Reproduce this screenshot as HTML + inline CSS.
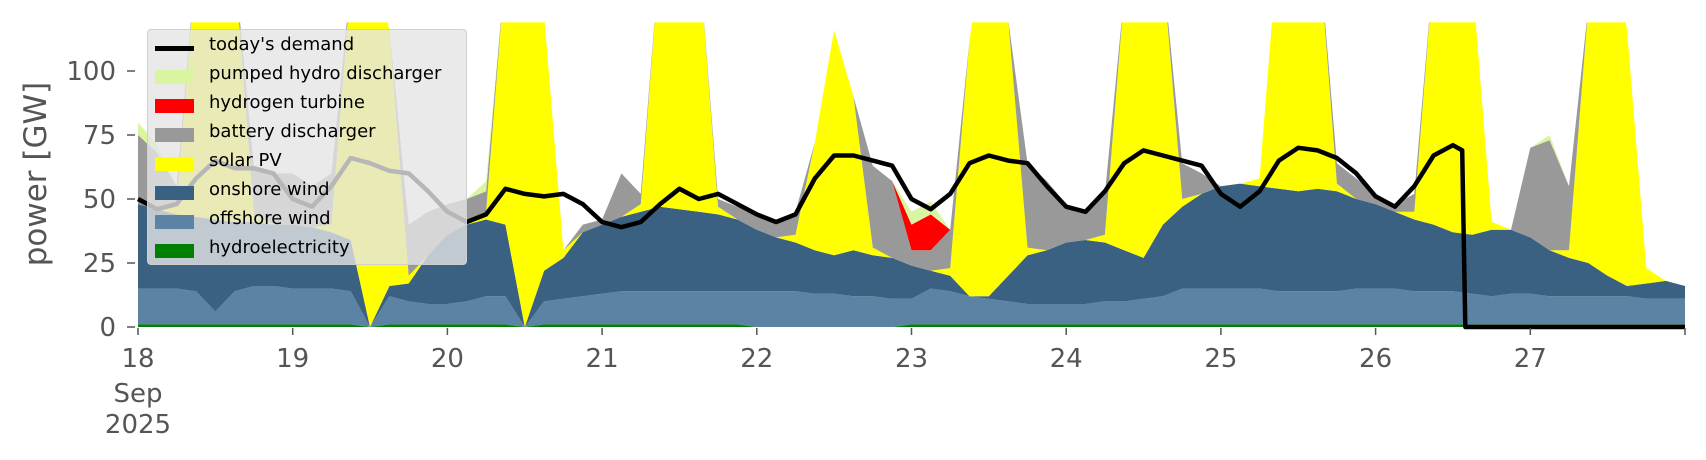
<!DOCTYPE html>
<html><head><meta charset="utf-8"><style>
body{margin:0;background:#fff;}
#wrap{position:relative;width:1706px;height:460px;overflow:hidden;font-family:"DejaVu Sans","Liberation Sans",sans-serif;}
#legend{position:absolute;left:147px;top:29px;width:320px;height:236px;background:rgba(229,229,229,0.8);border:1px solid #cfcfcf;border-radius:4px;box-sizing:border-box;}
.le{position:absolute;left:0;height:29px;width:100%;}
.sw{position:absolute;left:7px;top:8px;width:39px;height:14px;}
.ln{position:absolute;left:7px;top:13px;width:39px;height:5px;background:#000;}
.lt{position:absolute;left:61px;top:1px;font-size:18px;color:#000;white-space:nowrap;}
</style></head><body>
<div id="wrap">
<svg id="chart" width="1706" height="460"></svg>
<div id="legend">
 <div class="le" style="top:3px"><div class="ln"></div><div class="lt">today's demand</div></div>
 <div class="le" style="top:32px"><div class="sw" style="background:#daf5a2"></div><div class="lt">pumped hydro discharger</div></div>
 <div class="le" style="top:61px"><div class="sw" style="background:#ff0000"></div><div class="lt">hydrogen turbine</div></div>
 <div class="le" style="top:90px"><div class="sw" style="background:#999999"></div><div class="lt">battery discharger</div></div>
 <div class="le" style="top:119px"><div class="sw" style="background:#ffff00"></div><div class="lt">solar PV</div></div>
 <div class="le" style="top:148px"><div class="sw" style="background:#3b6182"></div><div class="lt">onshore wind</div></div>
 <div class="le" style="top:177px"><div class="sw" style="background:#5c83a4"></div><div class="lt">offshore wind</div></div>
 <div class="le" style="top:206px"><div class="sw" style="background:#008000"></div><div class="lt">hydroelectricity</div></div>
</div>
</div>
<script>
const startDay = 18, stepDays = 0.125;
const hydro = [1,1,1,1,1,1,1,1, 1,1,1,1,0,1,1,1, 1,1,1,1,0,1,1,1, 1,1,1,1,1,1,1,1, 0,0,0,0,0,0,0,0, 1,1,1,1,1,1,1,1, 1,1,1,1,1,1,1,1, 1,1,1,1,1,1,1,1, 1,1,1,1,1,1,1,1, 1,1,1,1,1,1,1,1, 1];
const offshore = [14,14,14,13,5,13,15,15, 14,14,14,13,0,11,9,8, 8,9,11,11,0,9,10,11, 12,13,13,13,13,13,13,13, 14,14,14,13,13,12,12,11, 10,14,13,11,10,9,8,8, 8,8,9,9,10,11,14,14, 14,14,14,13,13,13,13,14, 14,14,13,13,13,12,11,12, 12,11,11,11,11,11,10,10, 10];
const onshore = [33,31,29,29,36,27,25,24, 25,24,22,20,0,4,7,19, 27,30,30,28,0,12,16,25, 27,29,31,33,32,31,30,28, 24,21,19,17,15,18,16,16, 13,7,6,0,1,10,19,21, 24,25,23,20,16,28,32,37, 40,41,40,40,39,40,39,35, 33,30,28,26,23,23,26,25, 22,18,15,13,8,4,6,7, 5];
const solar = [0,0,3,100,150,100,3,0, 0,0,3,100,150,100,3,0, 0,0,3,100,150,100,3,0, 0,0,3,100,150,100,3,0, 0,0,3,42,88,60,3,0, 0,0,3,100,150,100,3,0, 0,0,3,100,150,100,3,0, 0,0,3,100,150,100,3,0, 0,0,3,100,150,100,3,0, 0,0,3,100,150,100,6,0, 0];
const battery = [27,22,8,0,0,0,18,20, 20,16,20,0,0,0,20,17, 12,10,8,0,0,0,0,3, 2,17,4,0,0,0,3,5, 6,6,9,0,0,0,32,30, 6,8,15,0,0,0,33,27, 15,11,16,0,0,0,14,8, 0,0,0,0,0,0,8,8, 4,3,7,0,0,0,0,0, 35,43,25,0,0,0,0,0, 0];
const hydrogen = [0,0,0,0,0,0,0,0, 0,0,0,0,0,0,0,0, 0,0,0,0,0,0,0,0, 0,0,0,0,0,0,0,0, 0,0,0,0,0,0,0,0, 10,14,0,0,0,0,0,0, 0,0,0,0,0,0,0,0, 0,0,0,0,0,0,0,0, 0,0,0,0,0,0,0,0, 0,0,0,0,0,0,0,0, 0];
const pumpedHydro = [5,3,0,0,0,0,0,0, 0,0,0,0,0,0,0,0, 0,0,4,0,0,0,0,0, 0,0,0,0,0,0,0,0, 0,0,0,0,0,0,0,0, 5,5,0,0,0,0,0,0, 0,0,0,0,0,0,0,0, 0,0,0,0,0,0,0,0, 0,0,0,0,0,0,0,0, 0,2,0,0,0,0,0,0, 0];
const demand = [50,46,48,58,65,62,62,60, 50,47,55,66,64,61,60,53, 45,41,44,54,52,51,52,48, 41,39,41,48,54,50,52,48, 44,41,44,58,67,67,65,63, 50,46,52,64,67,65,64,55, 47,45,53,64,69,67,65,63, 52,47,53,65,70,69,66,60, 51,47,55,67,71, 69,0,0];
const demandExtraDays = [26.56,26.58,28];
const yTicks = [0,25,50,75,100];
const xTickDays = [18,19,20,21,22,23,24,25,26,27,28];
const xTickLabels = ["18","19","20","21","22","23","24","25","26","27",""];

const X0=138, DAYPX=154.7, Y0=327, PXPER=2.56, YMAX=119, XEND=28;
const xs = d => X0 + DAYPX*(d-startDay);
const ys = v => Y0 - PXPER*v;
const NS='http://www.w3.org/2000/svg';
const svg=document.getElementById('chart');
function mk(t,a){const e=document.createElementNS(NS,t);for(const k in a)e.setAttribute(k,a[k]);return e;}
const defs=mk('defs',{});const cp=mk('clipPath',{id:'pc'});
cp.appendChild(mk('rect',{x:xs(startDay),y:ys(YMAX),width:xs(XEND)-xs(startDay),height:ys(0)-ys(YMAX)+1}));
defs.appendChild(cp);svg.appendChild(defs);
const g=mk('g',{'clip-path':'url(#pc)'});svg.appendChild(g);
const layers=[['hydroelectricity-area',hydro,'#008000'],['offshore-wind-area',offshore,'#5c83a4'],['onshore-wind-area',onshore,'#3b6182'],['solar-pv-area',solar,'#ffff00'],['battery-discharger-area',battery,'#999999'],['hydrogen-turbine-area',hydrogen,'#ff0000'],['pumped-hydro-area',pumpedHydro,'#daf5a2']];
let base=hydro.map(()=>0);
layers.forEach(([name,vals,col])=>{
  const top=base.map((b,i)=>b+vals[i]);
  let d='';
  top.forEach((v,i)=>{d+=(i?'L':'M')+xs(startDay+i*stepDays).toFixed(1)+','+ys(v).toFixed(1);});
  for(let i=base.length-1;i>=0;i--) d+='L'+xs(startDay+i*stepDays).toFixed(1)+','+ys(base[i]).toFixed(1);
  const p=mk('path',{d:d+'Z',fill:col,stroke:'none'});
  
  
  g.appendChild(p);
  base=top;
});
let dd='';
demand.forEach((v,i)=>{const day = i<demand.length-demandExtraDays.length ? startDay+i*stepDays : demandExtraDays[i-(demand.length-demandExtraDays.length)];
  dd+=(i?'L':'M')+xs(day).toFixed(1)+','+ys(v).toFixed(1);});
const dl=mk('path',{d:dd,fill:'none',stroke:'#000','stroke-width':4.5,'stroke-linejoin':'round'});


svg.appendChild(dl);
yTicks.forEach(v=>{
  const t=mk('line',{x1:127,x2:135,y1:ys(v),y2:ys(v),stroke:'#555','stroke-width':1.5});
  
  
  svg.appendChild(t);
  const l=mk('text',{x:116,y:ys(v)+9,'text-anchor':'end','font-size':26,fill:'#555','font-family':'DejaVu Sans, sans-serif'});
  l.textContent=v;
  
  
  svg.appendChild(l);
});
xTickDays.forEach((d,i)=>{
  const t=mk('line',{x1:xs(d),x2:xs(d),y1:328,y2:335,stroke:'#555','stroke-width':1.5});
  
  
  svg.appendChild(t);
  const l=mk('text',{x:xs(d),y:367,'text-anchor':'middle','font-size':26,fill:'#555','font-family':'DejaVu Sans, sans-serif'});
  l.textContent=xTickLabels[i];
  
  
  svg.appendChild(l);
});
[['Sep',402],['2025',433]].forEach(([s,y])=>{
  const l=mk('text',{x:xs(startDay),y:y,'text-anchor':'middle','font-size':26,fill:'#555','font-family':'DejaVu Sans, sans-serif'});
  l.textContent=s;
  
  
  svg.appendChild(l);
});
const yl=mk('text',{x:0,y:0,transform:'translate(46,174) rotate(-90)','text-anchor':'middle','font-size':31,fill:'#555','font-family':'DejaVu Sans, sans-serif'});
yl.textContent='power [GW]';


svg.appendChild(yl);
</script>
</body></html>
